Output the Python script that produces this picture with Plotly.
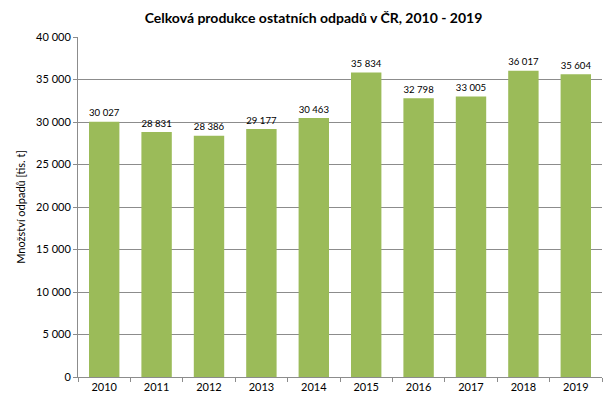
import plotly.graph_objects as go

years = ["2010", "2011", "2012", "2013", "2014", "2015", "2016", "2017", "2018", "2019"]
values = [30027, 28831, 28386, 29177, 30463, 35834, 32798, 33005, 36017, 35604]
y_ticks = [0, 5000, 10000, 15000, 20000, 25000, 30000, 35000, 40000]

fig = go.Figure(go.Bar(
    x=years, y=values,
    marker=dict(color="#9BBB59", line=dict(width=0)),
    width=0.58,
    text=[f"{v:,}".replace(",", " ") for v in values],
    textposition="outside",
    textfont=dict(size=12, color="#000000"),
    cliponaxis=False,
))

fig.update_layout(
    width=611, height=405,
    margin=dict(l=57, r=17, t=29, b=36),
    paper_bgcolor="white", plot_bgcolor="white",
    font=dict(family="Lato, Noto Sans, sans-serif", size=11, color="#000000"),
    separators=", ",
    title=dict(text="<b>Celková produkce ostatních odpadů v ČR, 2010 - 2019</b>",
               x=0.5, xanchor="center", y=0.975, yanchor="middle",
               font=dict(size=14, color="#000000")),
    showlegend=False,
)
fig.update_yaxes(
    range=[0, 40000], tickvals=y_ticks,
    ticktext=[f"{v:,}".replace(",", " ") for v in y_ticks],
    showgrid=True, gridcolor="#8C8C8C", gridwidth=1,
    showline=True, linecolor="#8C8C8C", linewidth=1,
    ticks="outside", ticklen=4, tickcolor="#8C8C8C",
    title=dict(text="Množství odpadů [tis. t]", font=dict(size=11), standoff=8),
    zeroline=False,
)
fig.update_xaxes(
    showline=True, linecolor="#8C8C8C", linewidth=1,
    ticks="outside", ticklen=4, tickcolor="#8C8C8C",
    tickson="boundaries",
    tickfont=dict(size=11),
)

fig.write_html("out.html")
